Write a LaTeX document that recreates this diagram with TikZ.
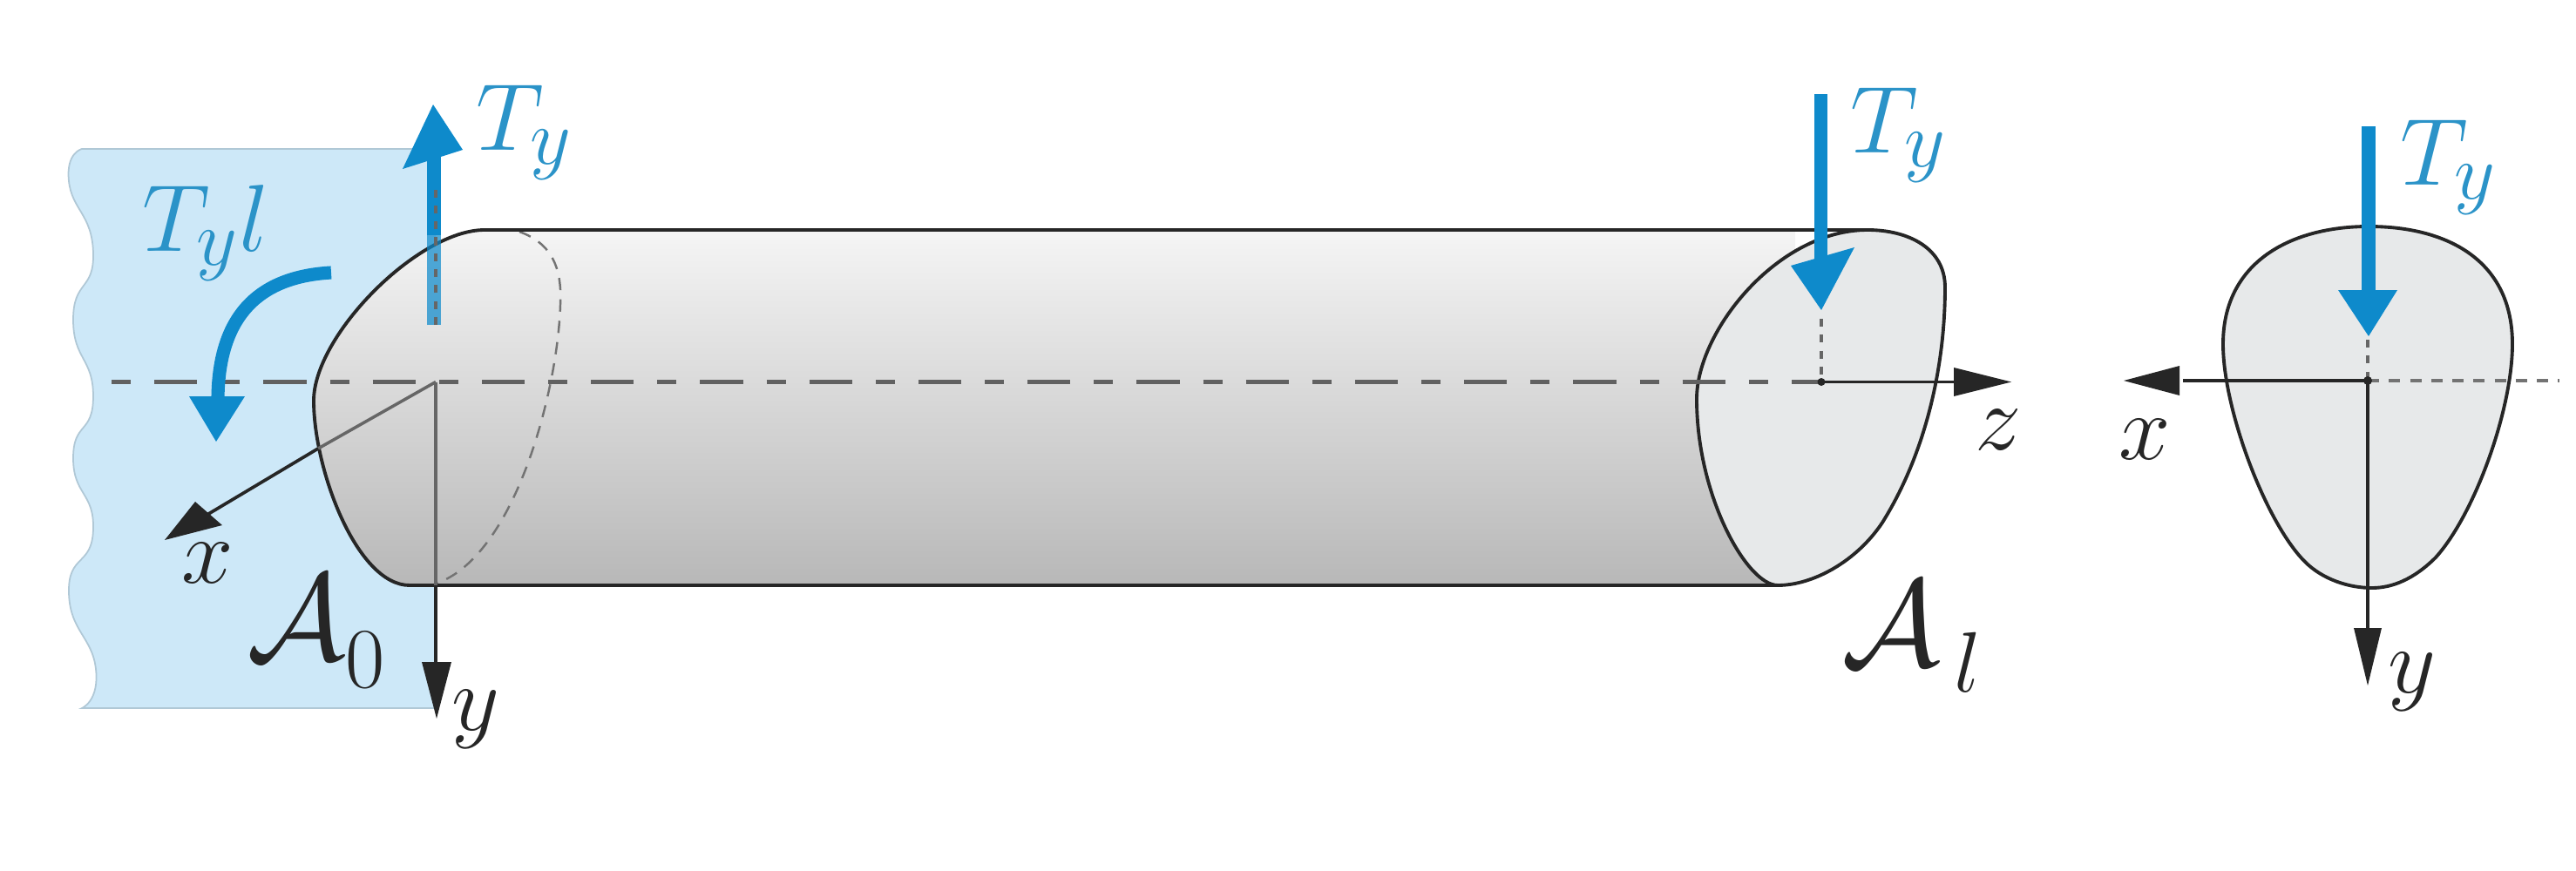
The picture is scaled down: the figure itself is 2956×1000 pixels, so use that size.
\documentclass[tikz,border=0pt]{standalone}
\usetikzlibrary{shapes.geometric,calc}
\definecolor{wallblue}{HTML}{CDE8F8}
\definecolor{walledge}{HTML}{B0C8D6}
\definecolor{forceblue}{HTML}{0E8ACB}
\definecolor{labelblue}{HTML}{2B93C8}
\definecolor{ink}{HTML}{262626}
\definecolor{capfill}{HTML}{E7E9EA}
\tikzset{
  x=0.01cm,y=-0.01cm,
  outline/.style={draw=ink,line width=1.1pt,line join=round},
  forceshaft/.style={draw=forceblue,line width=4.3pt},
  forcehead/.style={fill=forceblue,draw=none},
  axisline/.style={draw=ink,line width=1.05pt},
  axishead/.style={fill=ink,draw=none},
  blabel/.style={font=\Huge,scale=1.25,text=labelblue,anchor=base west,inner sep=0pt,outer sep=0pt},
  klabel/.style={font=\Huge,scale=1.22,text=ink,anchor=base west,inner sep=0pt,outer sep=0pt},
  alabel/.style={font=\Huge,scale=1.62,text=ink,anchor=base west,inner sep=0pt,outer sep=0pt},
  centerline/.style={draw=black!62,line width=1.3pt,dash pattern=on 6.26pt off 7.68pt on 14pt off 7.68pt},
  hiddenline/.style={draw=black!55,line width=0.7pt,dash pattern=on 4pt off 3pt},
  thinaxis/.style={draw=black!60,line width=1pt},
  dotline/.style={draw=black!60,line width=1.1pt,dash pattern=on 2.6pt off 2.6pt},
  sectiondash/.style={draw=black!55,line width=0.9pt,dash pattern=on 3.7pt off 3.2pt},
}
\begin{document}
\begin{tikzpicture}
\useasboundingbox (0,0) rectangle (2956,1000);
% named points
\coordinate (OL) at (500,438.5);
\coordinate (OR) at (2090,438.5);
\coordinate (OS) at (2717,437);
\coordinate (xtipL) at (189,620);
\coordinate (xcap) at (365,515);
\coordinate (ytipL) at (501,825);
\coordinate (ztip) at (2308,438.5);
\coordinate (xtipS) at (2437,437);
\coordinate (ytipS) at (2717,787);
\coordinate (dashS) at (2937,437);
\coordinate (dashstart) at (128,438.5);
% wall
\fill[wallblue] plot[smooth,tension=1] coordinates{(94,171)(79,208)(107,290)(84,367)(107,455)(84,526)(107,608)(79,680)(110,768)(94,813)} -- (500,813) -- (500,171) -- cycle;
\draw[walledge,line width=0.5pt] (500,171) -- (94,171) plot[smooth,tension=1] coordinates{(94,171)(79,208)(107,290)(84,367)(107,455)(84,526)(107,608)(79,680)(110,768)(94,813)} -- (500,813);
% cylinder body
\shade[top color=black!4,middle color=black!11,bottom color=black!28]
  (556,264) .. controls (480,264) and (360,385) .. (360,460)
  .. controls (360,540) and (410,672) .. (470,672)
  -- (2060,672) -- (2060,264) -- cycle;
\draw[hiddenline] (596,266) .. controls (635,280) and (645,310) .. (643,350) .. controls (640,450) and (590,640) .. (500,670);
\draw[outline] (2143,264) -- (556,264) .. controls (480,264) and (360,385) .. (360,460)
  .. controls (360,540) and (410,672) .. (470,672) -- (2040,672);
% free-end cross-section
\draw[outline,fill=capfill] (2143,264) .. controls (2190,264) and (2232,285) .. (2232,330)
  .. controls (2232,420) and (2210,520) .. (2160,600)
  .. controls (2130,645) and (2080,672) .. (2040,672)
  .. controls (2005,672) and (1947,570) .. (1947,458)
  .. controls (1947,380) and (2040,264) .. (2143,264) -- cycle;
% centre line
\draw[centerline] (dashstart) -- (OR);
% left axes
\draw[thinaxis] (OL) -- (xcap);
\draw[axisline] (xcap) -- ($(xtipL)!0.12!(xcap)$);
\fill[axishead] (xtipL) -- (224,576) -- (255,603) -- cycle;
\draw[thinaxis] (OL) -- (500,672);
\draw[axisline] (500,672) -- (500,770);
\fill[axishead] (ytipL) -- (484,760) -- (518,760) -- cycle;
% left force
\draw[forceshaft,opacity=0.72] (498,373) -- (498,270);
\draw[forceshaft] (498,270) -- (498,170);
\draw[dotline] (500,373) -- (500,215);
\fill[forcehead] (497,120) -- (462,194) -- (531,172) -- cycle;
% moment
\draw[forceshaft] (380,313) .. controls (290,318) and (250,370) .. (250,460);
\fill[forcehead] (248,507) -- (217,455) -- (281,455) -- cycle;
% right end axes and force
\draw[dotline] (2090,366) -- (OR);
\fill[ink] (OR) circle (4.5);
\draw[axisline] (OR) -- (2245,438.5);
\fill[axishead] (ztip) -- (2242,422) -- (2242,455) -- cycle;
\draw[forceshaft] (2089.5,108) -- (2089.5,300);
\fill[forcehead] (2090,356) -- (2055,305) -- (2128,284) -- cycle;
% section
\draw[outline,fill=capfill] (2718,260) .. controls (2810,260) and (2883,300) .. (2883,395)
  .. controls (2883,470) and (2840,590) .. (2795,640)
  .. controls (2770,665) and (2745,675) .. (2722,675)
  .. controls (2695,675) and (2665,665) .. (2645,645)
  .. controls (2600,600) and (2551,470) .. (2551,395)
  .. controls (2551,300) and (2630,260) .. (2718,260) -- cycle;
\draw[sectiondash] (OS) -- (dashS);
\draw[dotline] (2717,390) -- (OS);
\draw[axisline] (OS) -- (2505,437);
\fill[axishead] (xtipS) -- (2501,420) -- (2501,454) -- cycle;
\draw[axisline] (OS) -- (2717,725);
\fill[axishead] (ytipS) -- (2701,721) -- (2733,721) -- cycle;
\fill[ink] (OS) circle (5);
\draw[forceshaft] (2718,145) -- (2718,340);
\fill[forcehead] (2718,386) -- (2683,333) -- (2751,333) -- cycle;
% labels
\node[blabel] (TyL) at (546,172) {$T_y$};
\node[blabel] (Tyl) at (163,288) {$T_y l$};
\node[blabel] (TyR) at (2123,175) {$T_y$};
\node[blabel] (TyS) at (2754,212) {$T_y$};
\node[klabel] (xL) at (208,669) {$x$};
\node[klabel] (yL) at (518,838) {$y$};
\node[klabel] (zR) at (2266,516) {$z$};
\node[klabel] (xS) at (2431,527) {$x$};
\node[klabel] (yS) at (2740,795) {$y$};
\node[alabel] (A0) at (283,757) {$\mathcal{A}_{\lower2pt\hbox{$\scriptscriptstyle 0$}}$};
\node[alabel] (Al) at (2113,764) {$\mathcal{A}_{\lower1.6pt\hbox{$\scriptscriptstyle\,l$}}$};
\end{tikzpicture}
\end{document}
